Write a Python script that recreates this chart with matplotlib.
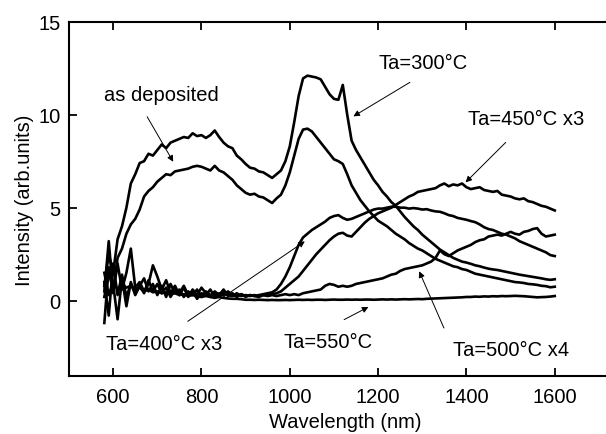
import numpy as np
import matplotlib
matplotlib.use("Agg")
import matplotlib.pyplot as plt

wavelength = list(range(580, 1601, 10))

ta300 = [0.8, 2.5, 1.5, 3.3, 4.0, 5.0, 6.3, 6.8, 7.4, 7.5,
         7.9, 7.8, 8.1, 8.4, 8.2, 8.5, 8.6, 8.7, 8.8, 8.75,
         9.0, 8.85, 8.9, 8.75, 8.9, 9.15, 8.8, 8.5, 8.3, 8.2,
         7.8, 7.6, 7.35, 7.15, 7.1, 6.95, 6.9, 6.75, 6.6, 6.8,
         7.0, 7.5, 8.3, 9.6, 11.0, 11.95, 12.1, 12.05, 12.0, 11.9,
         11.5, 11.1, 10.85, 10.8, 11.6, 10.0, 8.6, 8.1, 7.7, 7.3,
         6.9, 6.5, 6.2, 5.85, 5.6, 5.3, 5.1, 4.8, 4.5, 4.25,
         4.0, 3.8, 3.55, 3.35, 3.15, 2.95, 2.75, 2.6, 2.45, 2.3,
         2.2, 2.1, 2.05, 1.98, 1.9, 1.85, 1.78, 1.72, 1.68, 1.65,
         1.6, 1.55, 1.5, 1.45, 1.4, 1.36, 1.32, 1.28, 1.24, 1.2,
         1.15, 1.12, 1.15]

as_dep = [0.2, 1.5, 0.6, 2.3, 2.8, 3.6, 4.1, 4.4, 4.9, 5.6,
          5.9, 6.1, 6.4, 6.6, 6.8, 6.75, 6.95, 7.0, 7.05, 7.1,
          7.2, 7.25, 7.2, 7.1, 7.0, 7.25, 7.0, 6.9, 6.7, 6.5,
          6.2, 6.0, 5.8, 5.7, 5.75, 5.6, 5.55, 5.4, 5.25, 5.5,
          5.7, 6.2, 6.9, 7.8, 8.7, 9.2, 9.25, 9.1, 8.8, 8.5,
          8.2, 7.9, 7.6, 7.5, 7.35, 6.8, 6.2, 5.8, 5.4, 5.1,
          4.8, 4.55, 4.3, 4.15, 4.0, 3.8, 3.6, 3.45, 3.3, 3.1,
          2.95, 2.8, 2.7, 2.55, 2.4, 2.25, 2.15, 2.05, 1.95, 1.85,
          1.8, 1.7, 1.65, 1.55, 1.45, 1.4, 1.35, 1.3, 1.25, 1.2,
          1.15, 1.1, 1.05, 1.0, 0.98, 0.95, 0.9, 0.88, 0.85, 0.8,
          0.78, 0.72, 0.75]

ta400 = [0.5, 3.2, 0.4, 2.0, 0.6, 1.5, 2.8, 0.7, 1.0, 0.5,
         0.9, 1.9, 1.3, 0.6, 1.1, 0.4, 0.8, 0.3, 0.7, 0.2,
         0.6, 0.3, 0.7, 0.4, 0.2, 0.5, 0.3, 0.6, 0.25, 0.4,
         0.2, 0.35, 0.25, 0.3, 0.25, 0.3, 0.35, 0.4, 0.45, 0.6,
         0.9, 1.3, 1.8, 2.4, 3.0, 3.4, 3.6, 3.8, 3.95, 4.1,
         4.25, 4.45, 4.55, 4.6, 4.45, 4.35, 4.4, 4.5, 4.6, 4.7,
         4.8, 4.9, 4.95, 4.95, 5.0, 5.05, 5.05, 5.0, 5.0, 4.95,
         4.98, 4.95, 4.9, 4.92, 4.85, 4.8, 4.78, 4.7, 4.6, 4.55,
         4.45, 4.4, 4.35, 4.28, 4.22, 4.1, 3.95, 3.85, 3.8, 3.7,
         3.6, 3.55, 3.45, 3.35, 3.2, 3.1, 3.0, 2.9, 2.8, 2.7,
         2.6, 2.45, 2.4]

ta450 = [1.0, -0.8, 2.0, 0.3, 1.4, 0.2, 0.9, 0.4, 0.8, 1.2,
         0.5, 0.9, 0.3, 0.8, 0.2, 0.9, 0.4, 0.6, 0.2, 0.5,
         0.3, 0.6, 0.2, 0.5, 0.3, 0.4, 0.2, 0.45, 0.3, 0.25,
         0.4, 0.25, 0.3, 0.25, 0.3, 0.25, 0.3, 0.3, 0.35, 0.4,
         0.5, 0.7, 0.9, 1.1, 1.3, 1.6, 1.9, 2.2, 2.5, 2.75,
         3.0, 3.25, 3.45, 3.6, 3.65, 3.5, 3.45, 3.7, 3.95, 4.2,
         4.4, 4.55, 4.7, 4.8, 4.9, 5.0, 5.15, 5.3, 5.45, 5.6,
         5.7, 5.85, 5.9, 5.95, 6.0, 6.05, 6.2, 6.3, 6.15, 6.25,
         6.2, 6.3, 6.1, 6.0, 6.05, 6.1, 5.95, 5.9, 5.85, 5.9,
         5.7, 5.65, 5.6, 5.5, 5.45, 5.5, 5.35, 5.3, 5.2, 5.1,
         5.05, 4.95, 4.85]

ta500 = [-1.2, 1.8, 0.9, -1.0, 1.2, -0.3, 1.0, 0.3, 0.8, 0.4,
         1.1, 0.5, 0.9, 0.4, 0.7, 0.2, 0.6, 0.4, 0.8, 0.3,
         0.5, 0.1, 0.4, 0.3, 0.6, 0.2, 0.4, 0.3, 0.5, 0.3,
         0.25, 0.35, 0.2, 0.3, 0.25, 0.2, 0.3, 0.25, 0.3, 0.25,
         0.3, 0.35, 0.3, 0.35, 0.3, 0.4, 0.45, 0.5, 0.55, 0.6,
         0.8, 0.9, 0.85, 0.75, 0.8, 0.75, 0.8, 0.9, 0.95, 1.0,
         1.05, 1.1, 1.15, 1.2, 1.3, 1.4, 1.45, 1.6, 1.7, 1.75,
         1.8, 1.85, 1.9, 2.0, 2.1, 2.3, 2.7, 2.5, 2.4, 2.55,
         2.7, 2.8, 2.9, 3.0, 3.15, 3.25, 3.3, 3.45, 3.5, 3.55,
         3.5, 3.6, 3.7, 3.6, 3.55, 3.7, 3.75, 3.85, 3.9, 3.6,
         3.45, 3.5, 3.55]

ta550 = [1.5, 0.3, 1.0, 0.6, 0.9, 0.7, 0.8, 0.6, 0.7, 0.5,
         0.6, 0.45, 0.5, 0.4, 0.45, 0.35, 0.4, 0.3, 0.35, 0.25,
         0.3, 0.25, 0.2, 0.25, 0.2, 0.15, 0.2, 0.15, 0.12, 0.1,
         0.1, 0.08, 0.05, 0.05, 0.04, 0.05, 0.04, 0.03, 0.04, 0.03,
         0.03, 0.04, 0.03, 0.04, 0.05, 0.04, 0.05, 0.04, 0.05, 0.05,
         0.04, 0.05, 0.06, 0.05, 0.05, 0.06, 0.05, 0.06, 0.05, 0.06,
         0.06, 0.05, 0.06, 0.07, 0.06, 0.07, 0.06, 0.07, 0.08, 0.07,
         0.08, 0.09, 0.08, 0.1, 0.11, 0.12, 0.13, 0.14, 0.15, 0.16,
         0.17, 0.18, 0.2, 0.2, 0.22, 0.21, 0.23, 0.22, 0.24, 0.23,
         0.25, 0.24, 0.25, 0.26, 0.25, 0.24, 0.22, 0.2, 0.18, 0.19,
         0.2, 0.22, 0.25]

series = [ta300, as_dep, ta400, ta450, ta500, ta550]

# label text, text position (data), arrow start (data), arrow tip (data)
labels = ["as deposited", "Ta=300°C", "Ta=450°C x3", "Ta=400°C x3", "Ta=550°C", "Ta=500°C x4"]
label_xy = [(710, 11.07), (1301, 12.78), (1535, 9.82), (716, -2.28), (1086, -2.19), (1500, -2.63)]
arrow_from = [(677, 9.89), (1272, 11.74), (1489, 8.51), (769, -1.11), (1123, -1.02), (1349, -1.47)]
arrow_to = [(736, 7.47), (1144, 9.91), (1398, 6.36), (1034, 3.19), (1178, -0.34), (1293, 1.58)]

x_ticks = [600, 800, 1000, 1200, 1400, 1600]
y_ticks = [0, 5, 10, 15]

plt.rcParams['font.family'] = ['Liberation Sans', 'DejaVu Sans']

fig = plt.figure(figsize=(6.06, 4.35), dpi=100)
ax = fig.add_axes([69/606, 1 - 377/435, 552/606, (377 - 22.7)/435])

for s in series:
    ax.plot(wavelength, s, color='black', lw=1.9, solid_joinstyle='round')

for t, txy, a0, a1 in zip(labels, label_xy, arrow_from, arrow_to):
    ax.text(txy[0], txy[1], t, ha='center', va='center', fontsize=14.5)
    ax.annotate('', xy=a1, xytext=a0,
                arrowprops=dict(arrowstyle='-|>', color='black', lw=0.7,
                                mutation_scale=9, shrinkA=0, shrinkB=0))

ax.set_xlim(500, 1750)
ax.set_ylim(-4.05, 15)
ax.set_xticks(x_ticks)
ax.set_yticks(y_ticks)
ax.tick_params(axis='both', direction='in', length=6, width=1.3, labelsize=14.5)
ax.tick_params(axis='x', top=True, pad=8)
ax.tick_params(axis='y', pad=6)
ax.spines['right'].set_visible(False)
for sp in ['left', 'top', 'bottom']:
    ax.spines[sp].set_linewidth(1.5)
ax.set_xlabel('Wavelength (nm)', fontsize=14.5, labelpad=4)
ax.set_ylabel('Intensity (arb.units)', fontsize=14.5, labelpad=3)

fig.savefig('out.png', dpi=100)
